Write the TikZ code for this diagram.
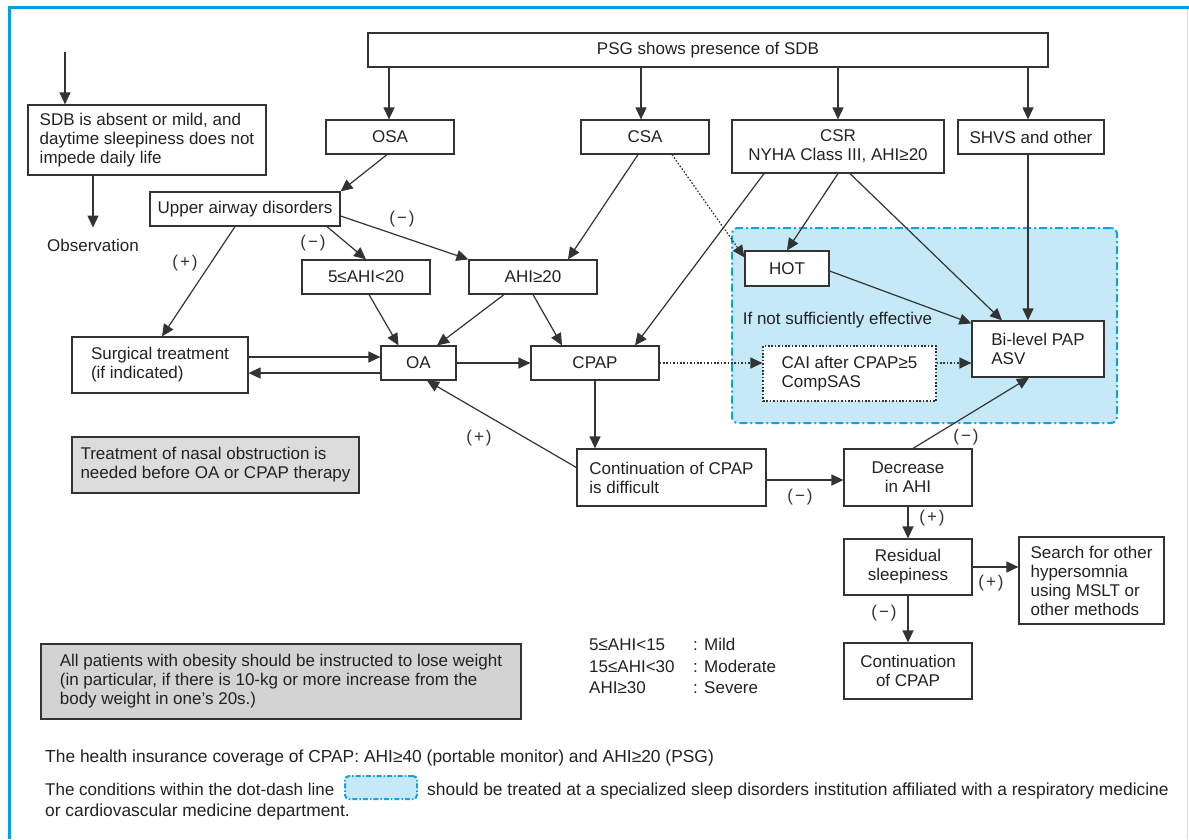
\documentclass[tikz,border=0pt]{standalone}
\usepackage{fontspec}
\setmainfont{Liberation Sans}
\usetikzlibrary{arrows.meta,calc}
\definecolor{frameblue}{HTML}{00A0E9}
\definecolor{framelight}{HTML}{B9E3F7}
\definecolor{regionfill}{HTML}{C6E9F8}
\definecolor{regionline}{HTML}{12A2E0}
\definecolor{boxline}{HTML}{333333}
\definecolor{txt}{HTML}{222222}
\definecolor{grayA}{HTML}{DCDCDC}
\definecolor{grayB}{HTML}{D3D3D3}
\begin{document}
\begin{tikzpicture}[x=1pt,y=-1pt,
  every node/.style={font=\fontsize{17}{19}\selectfont, text=txt},
  notefont/.style={font=\fontsize{17.4}{19}\selectfont},
  box/.style={draw=boxline, line width=1.2pt, fill=white, inner sep=0pt, align=left},
  cbox/.style={box, align=center},
  arr/.style={draw=boxline, line width=1.2pt, -{Triangle[length=12pt,width=11pt]}},
  dots/.style={dash pattern=on 1.6pt off 1.8pt},
  sign/.style={text=boxline, inner sep=0pt},
  region/.style={draw=regionline, fill=regionfill, line width=2pt, rounded corners=6pt, dash pattern=on 8pt off 3pt on 2pt off 3pt},
]
\useasboundingbox (0,0) rectangle (1189,839);
\fill[white] (0,0) rectangle (1189,839);
% frame
\draw[framelight, line width=1pt] (1187,9) -- (1187,839);
\draw[frameblue, line width=3pt] (9,839) -- (9,7.5) -- (1189,7.5);

% specialized region
\node[region, minimum width=385pt, minimum height=195pt, inner sep=0pt] (spec) at (924.5,325.5) {};

% boxes
\node[cbox, minimum width=680pt, minimum height=34pt] (psg) at (708,50) {PSG shows presence of SDB};
\node[box, minimum width=238pt, minimum height=70pt] (sdb) at (147,140) {SDB is absent or mild, and\\daytime sleepiness does not\\impede daily life};
\node[inner sep=0pt] (obs) at (93,245) {Observation};
\node[cbox, minimum width=128pt, minimum height=34pt] (osa) at (390,137) {OSA};
\node[cbox, minimum width=128pt, minimum height=34pt] (csa) at (645,137) {CSA};
\node[cbox, minimum width=212pt, minimum height=53pt] (csr) at (838,146.5) {CSR\\NYHA Class III, AHI≥20};
\node[cbox, minimum width=146pt, minimum height=34pt] (shvs) at (1031,137) {SHVS and other};
\node[cbox, minimum width=190pt, minimum height=34pt] (upper) at (245,209) {Upper airway disorders};
\node[cbox, minimum width=128pt, minimum height=34pt] (a520) at (366,277) {5≤AHI<20};
\node[cbox, minimum width=128pt, minimum height=34pt] (a20) at (533,277) {AHI≥20};
\node[box, minimum width=176pt, minimum height=56pt] (surg) at (160,365) {Surgical treatment\\(if indicated)};
\node[cbox, minimum width=75pt, minimum height=34pt] (oa) at (418.5,363) {OA};
\node[cbox, minimum width=128pt, minimum height=34pt] (cpap) at (595,363) {CPAP};
\node[cbox, minimum width=84pt, minimum height=35pt] (hot) at (787,268.5) {HOT};
\node[box, minimum width=132pt, minimum height=56pt] (bipap) at (1038,349) {Bi-level PAP\\ASV};
\node[box, dots, minimum width=173pt, minimum height=55pt] (cai) at (849.5,373.5) {CAI after CPAP≥5\\CompSAS};
\node[anchor=base, inner sep=0pt] (ifnot) at (837.5,324) {If not sufficiently effective};
\node[box, fill=grayA, minimum width=287pt, minimum height=56pt] (nasal) at (215.5,465) {Treatment of nasal obstruction is\\needed before OA or CPAP therapy};
\node[box, minimum width=189pt, minimum height=57pt] (cont) at (671.5,477.5) {Continuation of CPAP\\is difficult};
\node[cbox, minimum width=128pt, minimum height=57pt] (dec) at (908,477.5) {Decrease\\in AHI};
\node[cbox, minimum width=128pt, minimum height=56pt] (resid) at (908,567) {Residual\\sleepiness};
\node[box, minimum width=145pt, minimum height=87pt] (search) at (1091.5,580.5) {Search for other\\hypersomnia\\using MSLT or\\other methods};
\node[cbox, minimum width=128pt, minimum height=56pt] (contc) at (908,671) {Continuation\\of CPAP};
\node[box, fill=grayB, minimum width=480pt, minimum height=75pt] (obese) at (281,681.5) {All patients with obesity should be instructed to lose weight\\(in particular, if there is 10-kg or more increase from the\\body weight in one's 20s.)};

% legend
\node[anchor=base west, inner sep=0pt] (legA) at (589,650) {\makebox[104pt][l]{5≤AHI<15}: Mild};
\node[anchor=base west, inner sep=0pt] (legB) at (589,672) {\makebox[104pt][l]{15≤AHI<30}: Moderate};
\node[anchor=base west, inner sep=0pt] (legC) at (589,693) {\makebox[104pt][l]{AHI≥30}: Severe};

% notes
\node[notefont, anchor=base west, inner sep=0pt] (noteA) at (45,762) {The health insurance coverage of CPAP: AHI≥40 (portable monitor) and AHI≥20 (PSG)};
\node[anchor=base west, inner sep=0pt] (noteB) at (45,795) {The conditions within the dot-dash line};
\node[region, line width=2pt, rounded corners=4pt, dash pattern=on 5pt off 2pt on 1.5pt off 2pt, minimum width=72pt, minimum height=23pt, inner sep=0pt] (swatch) at (381,787.5) {};
\node[notefont, anchor=base west, inner sep=0pt] (noteC) at (427,795) {should be treated at a specialized sleep disorders institution affiliated with a respiratory medicine};
\node[notefont, anchor=base west, inner sep=0pt] (noteD) at (45,816) {or cardiovascular medicine department.};

% connectors
\coordinate (topin) at (65,52);
\draw[arr] (topin) -- (topin |- sdb.north);
\draw[arr] (sdb.south -| obs) -- ([yshift=11pt]obs.north);
\draw[arr] ([xshift=-1pt]osa.north |- psg.south) -- ([xshift=-1pt]osa.north);
\draw[arr] ([xshift=-4pt]csa.north |- psg.south) -- ([xshift=-4pt]csa.north);
\draw[arr] (csr.north |- psg.south) -- (csr.north);
\draw[arr] ([xshift=-3pt]shvs.north |- psg.south) -- ([xshift=-3pt]shvs.north);
\draw[arr] ([xshift=-3pt]osa.south) -- (upper.north east);
\draw[arr] ([xshift=-10pt]upper.south) -- ([xshift=2pt]surg.north);
\draw[arr] ([xshift=82pt]upper.south) -- (a520.north);
\draw[arr] ([yshift=-7pt]upper.east) -- (a20.north west);
\draw[arr] ([xshift=-7pt]csa.south) -- ([xshift=35pt]a20.north);
\draw[arr] ([xshift=3pt]a520.south) -- ([xshift=-20pt]oa.north);
\draw[arr] ([xshift=-29pt]a20.south) -- ([xshift=18.5pt]oa.north);
\draw[arr] (a20.south) -- ([xshift=-33pt]cpap.north);
\draw[arr] ([xshift=-74pt]csr.south) -- ([xshift=40pt]cpap.north);
\draw[arr, dots] ([xshift=27pt]csa.south) -- ([yshift=-7pt]hot.north west);
\draw[arr] (csr.south) -- (hot.north);
\draw[arr] ([xshift=12pt]csr.south) -- ([xshift=-36pt]bipap.north);
\draw[arr] ([xshift=-3pt]shvs.south) -- ([xshift=-3pt]shvs.south |- bipap.north);
\draw[arr] ([yshift=-2.5pt]hot.east) -- ([yshift=-3pt]bipap.north west);
\draw[arr] ([yshift=6pt]oa.west -| surg.east) -- ([yshift=6pt]oa.west);
\draw[arr] ([yshift=-10pt]oa.west) -- ([yshift=-10pt]oa.west -| surg.east);
\draw[arr] (oa.east) -- (cpap.west);
\draw[arr, dots] (cpap.east) -- (cpap.east -| cai.west);
\draw[arr, dots] (cai.east |- cpap.east) -- (bipap.west |- cpap.east);
\draw[arr] (cpap.south) -- (cpap.south |- cont.north);
\draw[arr] ([yshift=10pt]cont.west) -- ([xshift=8.5pt]oa.south);
\draw[arr] ([yshift=-2.5pt]cont.east) -- ([yshift=-2.5pt]cont.east -| dec.west);
\draw[arr] ([xshift=5pt]dec.north) -- ([xshift=-9pt]bipap.south);
\draw[arr] (dec.south) -- (resid.north);
\draw[arr] (resid.east) -- (resid.east -| search.west);
\draw[arr] (resid.south) -- (contc.north);

% signs
\node[sign] (s1) at (185,263) {(\kern2pt+\kern2pt)};
\node[sign] (s2) at (313,243) {(\kern2pt−\kern2pt)};
\node[sign] (s3) at (402,219) {(\kern2pt−\kern2pt)};
\node[sign] (s4) at (479,438) {(\kern2pt+\kern2pt)};
\node[sign] (s5) at (800,497) {(\kern2pt−\kern2pt)};
\node[sign] (s6) at (966,437) {(\kern2pt−\kern2pt)};
\node[sign] (s7) at (932,518) {(\kern2pt+\kern2pt)};
\node[sign] (s8) at (991,583) {(\kern2pt+\kern2pt)};
\node[sign] (s9) at (884,613) {(\kern2pt−\kern2pt)};
\end{tikzpicture}
\end{document}
